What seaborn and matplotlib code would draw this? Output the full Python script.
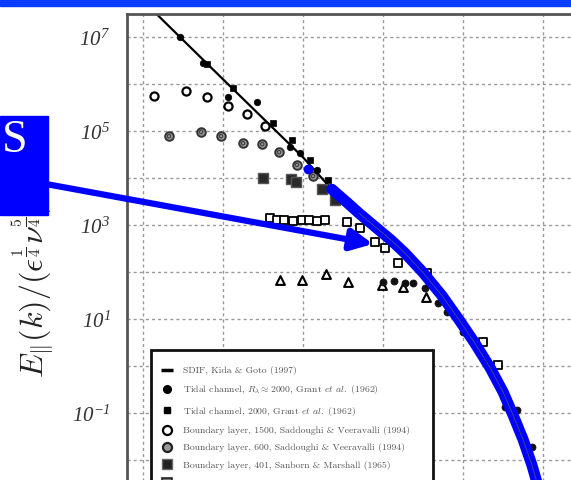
import matplotlib
matplotlib.use('Agg')
import matplotlib.pyplot as plt
import seaborn as sns
import numpy as np
from matplotlib.lines import Line2D
from matplotlib.patches import Rectangle, FancyArrowPatch

# values as log10(k*eta) and log10(E / (eps^1/4 nu^5/4))
sdif_k = [-5.4, -4.0, -3.0, -2.64, -2.45, -2.3, -2.09, -1.9, -1.725, -1.5, -1.26,
          -1.04, -0.85, -0.66, -0.5, -0.375, -0.25, -0.14, -0.03]
sdif_E = [8.44, 6.10, 4.44, 3.76, 3.48, 3.25, 2.95, 2.68, 2.40, 1.99, 1.49,
          0.96, 0.48, -0.04, -0.55, -1.04, -1.56, -2.10, -2.75]
model_start = 3  # blue highlighted part starts here

model_dot_k = [-2.94, -2.64, -2.45]
model_dot_E = [4.19, 3.76, 3.48]

tidal_c_k = [-4.54, -4.25, -3.94, -3.575, -3.16, -3.04, -2.825]
tidal_c_E = [7.0, 6.45, 5.72, 5.62, 4.66, 4.53, 4.17]

tidal_s_k = [-4.2, -3.875, -3.375, -3.14, -2.91, -2.69]
tidal_s_E = [6.43, 5.91, 5.17, 4.81, 4.38, 3.96]

bl1500_k = [-4.86, -4.46, -4.2, -3.94, -3.7, -3.475]
bl1500_E = [5.74, 5.85, 5.72, 5.53, 5.36, 5.11]

bl600_k = [-4.675, -4.275, -4.025, -3.75, -3.51, -3.3, -3.075, -2.875]
bl600_E = [4.89, 4.98, 4.89, 4.74, 4.72, 4.55, 4.28, 4.04]

bl401_k = [-3.5, -3.15, -3.09, -2.76, -2.6]
bl401_E = [4.0, 3.98, 3.91, 3.77, 3.53]

shear_k = [-3.41, -3.325, -3.24, -3.125, -3.01, -2.925, -2.825, -2.725, -2.45,
           -2.29, -2.1, -1.975, -1.81, -1.45, -0.75, -0.56]
shear_E = [3.15, 3.11, 3.11, 3.09, 3.11, 3.11, 3.09, 3.11, 3.06,
           2.94, 2.64, 2.51, 2.19, 1.98, 0.51, 0.02]

grid_k = [-3.29, -3.01, -2.71, -2.44, -2.01, -1.75, -1.46]
grid_E = [1.83, 1.83, 1.96, 1.79, 1.72, 1.68, 1.47]

wake_k = [-2.0, -1.86, -1.725, -1.625, -1.475, -1.31, -1.2, -1.0, -0.475, -0.325, -0.14]
wake_E = [1.79, 1.81, 1.77, 1.77, 1.66, 1.34, 1.15, 0.72, -0.87, -0.94, -1.72]

legend_labels = [
    'SDIF, Kida & Goto (1997)',
    r'Tidal channel, $R_\lambda \approx 2000$, Grant $\mathit{et\ al.}$ (1962)',
    r'Tidal channel, 2000, Grant $\mathit{et\ al.}$ (1962)',
    'Boundary layer, 1500, Saddoughi & Veeravalli (1994)',
    'Boundary layer, 600, Saddoughi & Veeravalli (1994)',
    'Boundary layer, 401, Sanborn & Marshall (1965)',
    r'Homogeneous shear flow, 130, Champagne $\mathit{et\ al.}$ (1970)',
]
ytick_exp = list(range(-4, 8))
ytick_shown = [7, 5, 3, 1, -1]

sns.set_style('white')
plt.rcParams['mathtext.fontset'] = 'cm'
plt.rcParams['mathtext.rm'] = 'Liberation Serif:italic'
plt.rcParams['mathtext.it'] = 'Liberation Serif:italic'

W, H = 571, 480
def fx(px): return px / W
def fy(py): return 1 - py / H

def p(v):
    return 10.0 ** np.asarray(v)

fig = plt.figure(figsize=(5.71, 4.80), dpi=100)
ax = fig.add_axes([fx(127), fy(560), fx(640) - fx(127), fy(14) - fy(560)])
ax.set_xscale('log')
ax.set_yscale('log')

# black model line, blue highlight on top
sns.lineplot(x=p(sdif_k), y=p(sdif_E), sort=False, estimator=None, color='black', lw=1.6, ax=ax, zorder=2)

sns.scatterplot(x=p(bl1500_k), y=p(bl1500_E), marker='o', s=34, color='white', edgecolor='black', linewidth=1.6, ax=ax, zorder=3)
sns.scatterplot(x=p(bl600_k), y=p(bl600_E), marker='o', s=38, color='#9a9a9a', edgecolor='#333333', linewidth=1.4, ax=ax, zorder=3)
sns.scatterplot(x=p(bl600_k), y=p(bl600_E), marker='o', s=6, color='none', edgecolor='#444444', linewidth=0.9, ax=ax, zorder=3)
sns.scatterplot(x=p(bl401_k), y=p(bl401_E), marker='s', s=48, color='#2a2a2a', edgecolor='#555555', linewidth=1.0, ax=ax, zorder=3)
sns.scatterplot(x=p(shear_k), y=p(shear_E), marker='s', s=30, color='white', edgecolor='black', linewidth=1.3, ax=ax, zorder=3)
sns.scatterplot(x=p(grid_k), y=p(grid_E), marker='^', s=40, color='white', edgecolor='black', linewidth=1.5, ax=ax, zorder=3)
sns.scatterplot(x=p(wake_k), y=p(wake_E), marker='o', s=26, color='#111111', edgecolor='#111111', linewidth=0.5, ax=ax, zorder=3)
sns.scatterplot(x=p(tidal_c_k), y=p(tidal_c_E), marker='o', s=22, color='black', edgecolor='black', linewidth=0.5, ax=ax, zorder=3)
sns.scatterplot(x=p(tidal_s_k), y=p(tidal_s_E), marker='s', s=24, color='black', edgecolor='black', linewidth=0.5, ax=ax, zorder=3)

sns.lineplot(x=p(sdif_k[model_start:]), y=p(sdif_E[model_start:]), sort=False, estimator=None,
             color='#0000ff', lw=8.0, solid_capstyle='round', solid_joinstyle='round', ax=ax, zorder=5)
sns.scatterplot(x=p(model_dot_k), y=p(model_dot_E), marker='o', s=50, color='#0000ff', edgecolor='#0000ff', linewidth=0, ax=ax, zorder=5)
sns.lineplot(x=p(sdif_k[model_start + 2:]), y=p(sdif_E[model_start + 2:]), sort=False, estimator=None,
             color='#5c5c6a', lw=0.6, alpha=0.8, ax=ax, zorder=6)

ax.set_xlim(10 ** -5.2, 10 ** 1.2125)
ax.set_ylim(10 ** -4.128, 10 ** 7.489)
ax.set_xticks(p(list(range(-5, 2))))
ax.set_xticklabels([])
ax.set_yticks(p(ytick_exp))
ax.set_yticklabels([r'$10^{%d}$' % e if e in ytick_shown else '' for e in ytick_exp],
                   fontsize=15, color='#333333', math_fontfamily='custom')
ax.minorticks_off()
ax.tick_params(axis='both', length=0, pad=12)
ax.set_xlabel('')
ax.set_ylabel('')
ax.grid(True, which='major', color='#999999', ls=(0, (2.2, 2.2)), lw=1.0)
for s in ax.spines.values():
    s.set_color('#555555')
    s.set_linewidth(2.0)

# legend box (white, black frame) and the entries
fig.add_artist(Rectangle((fx(151), fy(520)), fx(433) - fx(151), (520 - 350) / H,
                         transform=fig.transFigure, facecolor='white', edgecolor='#111111',
                         lw=2.0, zorder=1))
handles = [
    Line2D([], [], ls='none', marker='_', ms=9, mew=2.5, color='black'),
    Line2D([], [], ls='none', marker='o', ms=5.5, color='black'),
    Line2D([], [], ls='none', marker='s', ms=5, color='black'),
    Line2D([], [], ls='none', marker='o', ms=6.5, mfc='white', mec='black', mew=1.6),
    Line2D([], [], ls='none', marker='o', ms=6.5, mfc='#9a9a9a', mec='#222222', mew=1.6),
    Line2D([], [], ls='none', marker='s', ms=7, mfc='#222222', mec='#666666', mew=1.0),
    Line2D([], [], ls='none', marker='s', ms=7, mfc='#777777', mec='#222222', mew=1.2),
]
leg = fig.legend(handles, legend_labels, loc='upper left', bbox_to_anchor=(fx(151), fy(355)),
                 bbox_transform=fig.transFigure, borderaxespad=0, frameon=False,
                 prop={'family': 'cmr10', 'size': 7}, labelcolor='#555555',
                 borderpad=1.15, handlelength=1.0, handletextpad=1.1, labelspacing=0.85)
leg.set_zorder(2)

# slide decorations
fig.add_artist(Rectangle((0, fy(5.5)), 1, 5.5 / H, transform=fig.transFigure,
                         color='#0a3cff', zorder=10))
fig.text(fx(33), fy(378), r'$E_{\|}(k)/(\epsilon^{\frac{1}{4}}\nu^{\frac{5}{4}})$',
         rotation=90, ha='center', va='bottom', fontsize=23, math_fontfamily='cm', color='#222222')
fig.add_artist(FancyArrowPatch((fx(46), fy(184)), (fx(373), fy(244)), transform=fig.transFigure,
                               arrowstyle='-|>,head_length=0.65,head_width=0.32', mutation_scale=20,
                               lw=4.5, color='#0000ff', shrinkA=0, shrinkB=0, zorder=9))
fig.add_artist(Rectangle((0, fy(215)), fx(48), (215 - 116) / H, transform=fig.transFigure,
                         color='#0000ff', zorder=10))
fig.text(fx(2), fy(141), 'S', color='white', fontsize=33, family='Liberation Serif',
         ha='left', va='center', zorder=11)

fig.savefig('out.png', dpi=100)
plt.close(fig)
